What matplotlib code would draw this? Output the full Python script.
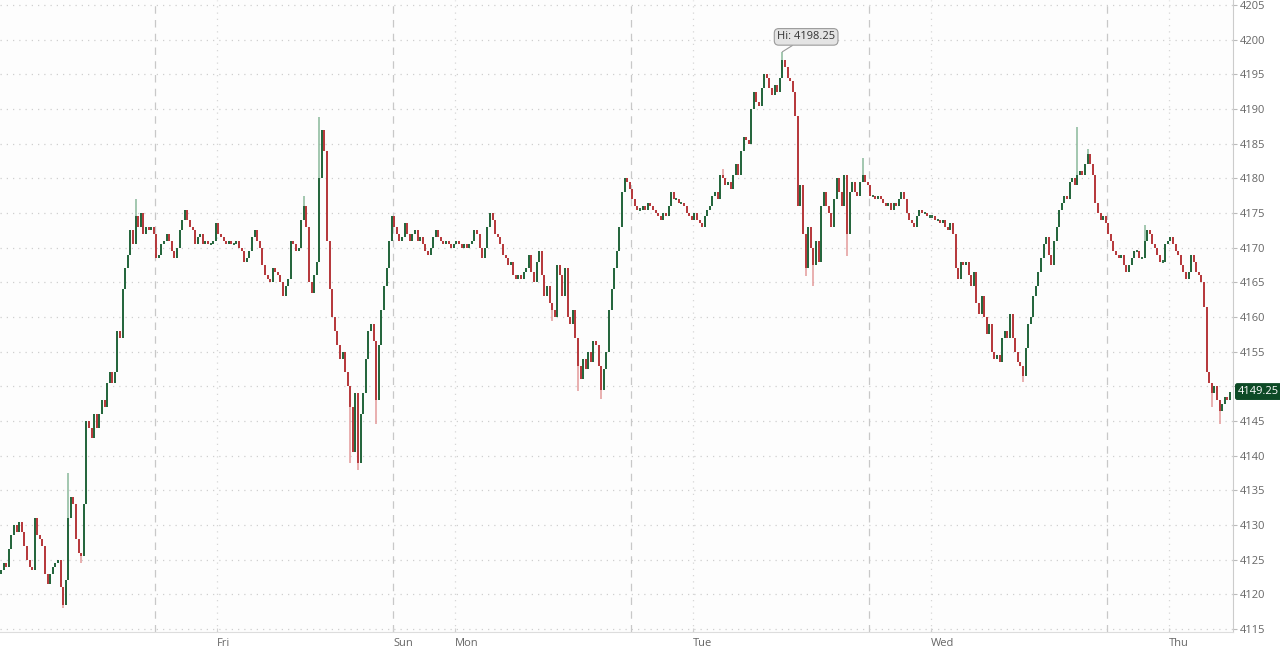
import matplotlib
matplotlib.use("Agg")
import matplotlib.pyplot as plt
import matplotlib.transforms as mtransforms

# 15-minute closes (92 bars per session)
first_open = 4123.0
closes = [
    4123.5, 4124.5, 4124.0, 4126.5, 4128.5, 4130.0, 4129.0, 4130.5, 4129.0, 4127.0,
    4125.0, 4124.0, 4123.5, 4131.0, 4128.5, 4128.0, 4127.0, 4123.0, 4121.5, 4123.0,
    4124.0, 4124.5, 4125.0, 4121.0, 4118.5, 4122.0, 4131.0, 4134.0, 4133.0, 4128.0,
    4126.0, 4125.5, 4133.0, 4145.0, 4144.0, 4142.5, 4146.0, 4144.0, 4146.0, 4148.0,
    4147.0, 4150.5, 4152.0, 4150.5, 4152.0, 4158.0, 4157.0, 4164.0, 4167.0, 4169.0,
    4172.5, 4170.5, 4174.5, 4173.0, 4175.0, 4172.0, 4173.0, 4172.5, 4173.0, 4172.0,
    4168.5, 4169.0, 4170.5, 4171.0, 4172.0, 4171.0, 4169.5, 4168.5, 4170.0, 4172.5,
    4174.0, 4175.5, 4174.0, 4173.0, 4172.5, 4170.5, 4171.5, 4172.0, 4170.5, 4171.0,
    4170.5, 4170.5, 4171.0, 4173.5, 4172.0, 4171.5, 4171.0, 4170.5, 4171.0, 4170.5,
    4170.5, 4171.0, 4170.0, 4169.5, 4168.0, 4168.5, 4169.5, 4171.5, 4172.5, 4171.0,
    4170.0, 4167.5, 4166.0, 4165.5, 4165.0, 4167.0, 4166.5, 4166.0, 4165.0, 4163.0,
    4164.5, 4165.5, 4171.0, 4170.5, 4169.5, 4170.0, 4174.0, 4176.0, 4173.0, 4165.0,
    4163.5, 4166.0, 4168.0, 4180.0, 4187.0, 4184.0, 4171.0, 4164.0, 4160.0, 4158.0,
    4156.0, 4154.0, 4155.0, 4152.0, 4150.0, 4147.0, 4140.5, 4149.0, 4139.0, 4146.0,
    4149.0, 4154.0, 4158.0, 4159.0, 4156.5, 4148.0, 4156.0, 4161.0, 4164.5, 4167.0,
    4171.0, 4174.5, 4173.0, 4172.0, 4171.0, 4171.5, 4173.5, 4172.0, 4171.0, 4172.0,
    4172.5, 4171.0, 4171.5, 4170.5, 4169.5, 4169.0, 4170.0, 4171.5, 4172.5, 4171.5,
    4171.0, 4170.5, 4171.0, 4170.5, 4170.0, 4170.5, 4171.0, 4170.5, 4170.0, 4170.5,
    4170.0, 4170.5, 4171.0, 4172.5, 4172.0, 4170.0, 4168.5, 4170.0, 4173.0, 4175.0,
    4174.0, 4172.0, 4171.5, 4170.5, 4169.0, 4168.5, 4167.5, 4168.0, 4166.0, 4165.5,
    4166.0, 4165.5, 4166.5, 4167.0, 4169.0, 4166.5, 4165.0, 4168.0, 4169.5, 4166.0,
    4163.0, 4164.5, 4162.0, 4161.0, 4160.0, 4167.5, 4166.0, 4163.0, 4167.0, 4160.0,
    4159.0, 4161.0, 4157.0, 4153.0, 4151.0, 4154.0, 4152.5, 4155.0, 4153.5, 4156.5,
    4156.0, 4153.0, 4149.5, 4152.5, 4155.0, 4161.0, 4164.0, 4167.0, 4169.5, 4173.0,
    4178.0, 4180.0, 4179.5, 4178.5, 4177.0, 4176.0, 4175.5, 4175.5, 4176.0, 4175.5,
    4176.5, 4176.0, 4175.5, 4175.0, 4174.5, 4174.0, 4175.0, 4174.5, 4176.0, 4178.0,
    4177.0, 4177.0, 4176.5, 4176.5, 4176.0, 4175.0, 4174.5, 4174.0, 4175.0, 4174.0,
    4173.5, 4173.0, 4174.5, 4175.5, 4176.0, 4177.5, 4178.0, 4177.0, 4180.5, 4180.0,
    4179.0, 4179.5, 4178.5, 4180.5, 4182.0, 4180.5, 4184.0, 4186.0, 4185.5, 4185.0,
    4190.0, 4192.5, 4191.0, 4190.5, 4193.0, 4195.0, 4194.5, 4193.0, 4192.0, 4193.5,
    4192.5, 4194.5, 4197.0, 4196.0, 4194.5, 4194.0, 4192.5, 4189.0, 4176.0, 4179.0,
    4172.0, 4167.0, 4173.0, 4170.0, 4167.5, 4171.0, 4168.0, 4176.0, 4178.0, 4176.0,
    4175.0, 4173.0, 4177.0, 4180.0, 4178.0, 4176.0, 4180.5, 4172.0, 4178.0, 4179.5,
    4178.0, 4177.5, 4179.5, 4180.5, 4179.5, 4179.0, 4177.5, 4177.5, 4177.0, 4177.5,
    4177.0, 4176.5, 4176.0, 4176.5, 4175.5, 4176.5, 4176.0, 4177.0, 4178.0, 4177.0,
    4175.0, 4174.0, 4173.5, 4173.0, 4174.5, 4175.5, 4175.0, 4175.0, 4174.5, 4174.5,
    4174.5, 4174.0, 4174.0, 4173.5, 4174.0, 4173.0, 4172.5, 4173.5, 4172.0, 4167.0,
    4165.5, 4168.0, 4167.5, 4168.0, 4166.0, 4164.5, 4166.5, 4162.0, 4160.5, 4163.0,
    4160.0, 4157.5, 4159.0, 4155.0, 4154.0, 4154.5, 4153.5, 4157.0, 4158.0, 4157.0,
    4160.5, 4157.0, 4155.0, 4153.5, 4153.0, 4151.5, 4155.5, 4159.0, 4160.0, 4163.0,
    4164.5, 4166.5, 4168.5, 4170.5, 4171.5, 4169.0, 4167.5, 4171.0, 4173.0, 4175.5,
    4176.5, 4177.5, 4177.0, 4179.5, 4180.0, 4179.0, 4180.5, 4181.0, 4180.5, 4182.0,
    4183.5, 4182.0, 4180.5, 4176.5, 4175.0, 4174.0, 4174.5, 4173.5, 4172.0, 4171.0,
    4169.5, 4169.0, 4168.5, 4169.0, 4167.5, 4166.5, 4167.5, 4168.5, 4169.5, 4169.5,
    4168.5, 4168.5, 4171.0, 4172.5, 4172.0, 4170.5, 4170.0, 4169.0, 4168.0, 4168.0,
    4170.5, 4171.0, 4171.5, 4170.5, 4169.5, 4169.0, 4167.5, 4166.5, 4165.5, 4166.5,
    4169.0, 4168.0, 4166.5, 4166.0, 4165.0, 4161.5, 4152.0, 4150.5, 4149.0, 4150.0,
    4148.0, 4146.5, 4147.5, 4148.5, 4148.0, 4149.25,
]

# visible wick extremes (bar index -> price)
wick_high = {26: 4137.5, 52: 4177.0, 117: 4177.4, 123: 4188.8, 279: 4181.3,
             302: 4198.25, 333: 4182.9, 416: 4187.4, 420: 4184.3, 442: 4173.2}
wick_low = {24: 4118.0, 31: 4124.5, 135: 4139.0, 138: 4138.0, 145: 4144.5,
            213: 4159.4, 223: 4149.3, 232: 4148.2, 311: 4165.9, 314: 4164.5,
            327: 4168.8, 395: 4150.6, 468: 4147.0, 471: 4144.6}

session_starts = [59.5, 151.5, 243.5, 335.5, 427.5]
day_ticks = [83.5, 151.5, 175.5, 267.5, 359.5, 451.5]
day_labels = ["Fri", "Sun", "Mon", "Tue", "Wed", "Thu"]
price_ticks = list(range(4115, 4206, 5))

hi_bar, hi_value = 302, 4198.25
last_price = 4149.25

plt.rcParams['font.family'] = ['Open Sans', 'DejaVu Sans']

fig = plt.figure(figsize=(12.8, 6.48), dpi=100)
fig.patch.set_facecolor('white')
ax = fig.add_axes([0.0, 16 / 648, 1233 / 1280, 632 / 648])
ax.set_facecolor('#fdfdfd')

# grid
for p in price_ticks:
    ax.axhline(p, color='#cfcfcf', lw=0.9, ls=(0, (1, 4)), zorder=0)
for t in day_ticks:
    if t not in session_starts:
        ax.axvline(t, color='#d6d6d6', lw=0.9, ls=(0, (1, 4)), zorder=0)
for s in session_starts:
    ax.axvline(s, color='#c8c8c8', lw=0.9, ls=(0, (6, 5)), zorder=0)

# candles
prev = first_open
for i, c in enumerate(closes):
    o = prev
    top, bot = max(o, c), min(o, c)
    hi = wick_high.get(i, top)
    lo = wick_low.get(i, bot)
    up = c >= o
    dark = '#0d5428' if up else '#ad2428'
    light = '#8ab99a' if up else '#e39a9a'
    ax.vlines(i, lo, hi, color=light, lw=1.1, zorder=2)
    if top - bot < 0.3:
        top, bot = (top + bot) / 2 + 0.15, (top + bot) / 2 - 0.15
    ax.vlines(i, bot, top, color=dark, lw=1.2, zorder=3)
    prev = c

ax.set_xlim(-0.41, 476.2)
ax.set_ylim(4114.57, 4205.72)

ax.yaxis.tick_right()
ax.set_yticks(price_ticks)
# the 4150 label sits under the last-price tag
ax.set_yticklabels(["" if p == 4150 else str(p) for p in price_ticks])
ax.set_xticks(day_ticks)
ax.set_xticklabels(day_labels, ha='left')
ax.tick_params(axis='y', length=3, width=0.8, color='#bbbbbb', pad=2,
               labelsize=8, labelcolor='#666666')
ax.tick_params(axis='x', length=3, width=0.8, color='#d0d0d0', pad=4.5,
               labelsize=8, labelcolor='#666666', direction='in')

for side in ['top', 'left']:
    ax.spines[side].set_visible(False)
ax.spines['right'].set_color('#cccccc')
ax.spines['bottom'].set_color('#dddddd')

# high callout
ax.annotate(f"Hi: {hi_value:.2f}", xy=(hi_bar, hi_value), xytext=(hi_bar + 9.2, 4200.4),
            ha='center', va='center', fontsize=8, color='#333333',
            bbox=dict(boxstyle='round,pad=0.25,rounding_size=0.4', fc='#e4e4e4', ec='#9a9a9a', lw=0.8),
            arrowprops=dict(arrowstyle='-', color='#9a9a9a', lw=0.8, shrinkA=0, shrinkB=0))

# last price tag
trans = mtransforms.blended_transform_factory(ax.transAxes, ax.transData)
ax.text(1.004, last_price, f"{last_price:.2f}", transform=trans, ha='left', va='center',
        fontsize=8, color='white', clip_on=False, zorder=10,
        bbox=dict(boxstyle='round,pad=0.2,rounding_size=0.15', fc='#0d4a26', ec='#0d4a26'))

fig.savefig('out.png', dpi=100)
